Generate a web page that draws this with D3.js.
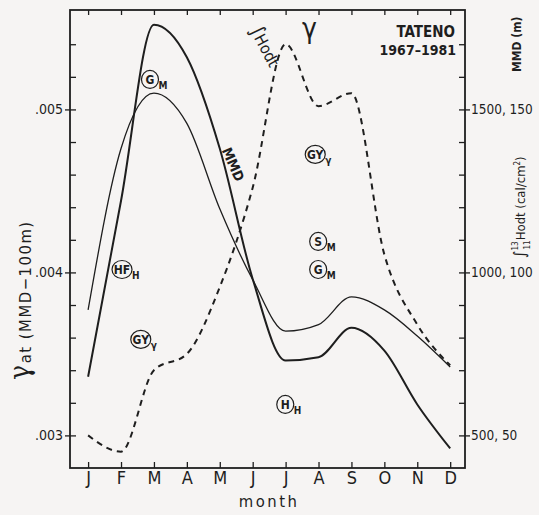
<!DOCTYPE html>
<html>
<head>
<meta charset="utf-8">
<script src="https://cdn.jsdelivr.net/npm/d3@7/dist/d3.min.js"></script>
<style>
  html, body { margin: 0; padding: 0; background: #f6f4f3; }
  svg { display: block; }
  text { fill: #1e1e1e; font-family: "DejaVu Sans Condensed", "DejaVu Sans", sans-serif; font-stretch: condensed; }
</style>
</head>
<body>
<script>
// Monthly climatology, Tateno 1967-1981
const months = ["J", "F", "M", "A", "M", "J", "J", "A", "S", "O", "N", "D"];
// lapse-type coefficient gamma at (MMD - 100 m)
const gammaAt = [0.00300, 0.00290, 0.00340, 0.00350, 0.00391, 0.00452, 0.00540, 0.00502, 0.00510, 0.00411, 0.00368, 0.00343];
// mean mixing depth, m
const mmd = [885, 1380, 1550, 1457, 1195, 978, 820, 840, 925, 885, 805, 710];
// integrated surface heat flux 11-13 h, cal/cm^2
const hodt = [68, 122, 176, 166, 138, 98, 73, 74, 83, 76, 59.5, 46];

const leftMajor = [0.003, 0.004, 0.005];
const rightMajor = [500, 1000, 1500];
const rightMajorLabels = ["500, 50", "1000, 100", "1500, 150"];

// circled source markers: [letter(s), subscript, month index, gamma]
const markers = [
  ["G", "M", 1.88, 0.005184],
  ["GY", "γ", 6.9, 0.004724],
  ["HF", "H", 1.03, 0.004018],
  ["GY", "γ", 1.6, 0.003589],
  ["S", "M", 6.99, 0.00419],
  ["G", "M", 6.99, 0.004018],
  ["H", "H", 5.99, 0.00319]
];

const W = 539, H = 515;
const svg = d3.select("body").append("svg").attr("width", W).attr("height", H);

const frame = { left: 70, right: 465, top: 10, bottom: 468 };
const x = d3.scaleLinear().domain([-0.55, 11.45]).range([frame.left, frame.right]);
const y = d3.scaleLinear().domain([0.0028, 0.00561]).range([frame.bottom, frame.top]);
// right-hand scales share the frame: MMD 500 m <-> 0.003, 1500 m <-> 0.005
const yM = d3.scaleLinear().domain([400, 1805]).range([frame.bottom, frame.top]);
const yH = d3.scaleLinear().domain([40, 180.5]).range([frame.bottom, frame.top]);

const ink = "#1e1e1e";

// frame
svg.append("rect")
  .attr("x", frame.left).attr("y", frame.top)
  .attr("width", frame.right - frame.left).attr("height", frame.bottom - frame.top)
  .attr("fill", "none").attr("stroke", ink).attr("stroke-width", 1.8);

function styleAxis(g) {
  g.select(".domain").remove();
  g.selectAll(".tick line").attr("stroke", ink).attr("stroke-width", 1.3);
  g.selectAll(".tick text").attr("fill", ink);
}

// left axis: inner ticks every 0.0002, labelled ticks crossing the frame
const leftMinor = d3.range(15, 28).map(i => i * 0.0002).filter(v => v >= 0.00299);
svg.append("g").attr("transform", `translate(${frame.left},0)`)
  .call(d3.axisRight(y).tickValues(leftMinor).tickSize(6).tickFormat(""))
  .call(styleAxis);
svg.append("g").attr("transform", `translate(${frame.left},0)`)
  .call(d3.axisLeft(y).tickValues(leftMajor).tickSize(5).tickPadding(2)
    .tickFormat(d => d3.format(".3f")(d).replace(/^0/, "")))
  .call(styleAxis)
  .call(g => g.selectAll(".tick text").attr("font-size", 14));

// right axis
const rightMinor = d3.range(5, 18).map(i => i * 100);
svg.append("g").attr("transform", `translate(${frame.right},0)`)
  .call(d3.axisLeft(yM).tickValues(rightMinor).tickSize(6).tickFormat(""))
  .call(styleAxis);
svg.append("g").attr("transform", `translate(${frame.right},0)`)
  .call(d3.axisRight(yM).tickValues(rightMajor).tickSize(5).tickPadding(1)
    .tickFormat((d, i) => rightMajorLabels[i]))
  .call(styleAxis)
  .call(g => g.selectAll(".tick text").attr("font-size", 13.5));

// month ticks on bottom and top edges, pointing inward
const monthIdx = d3.range(months.length);
svg.append("g").attr("transform", `translate(0,${frame.bottom})`)
  .call(d3.axisTop(x).tickValues(monthIdx).tickSize(6).tickFormat(""))
  .call(styleAxis);
svg.append("g").attr("transform", `translate(0,${frame.top})`)
  .call(d3.axisBottom(x).tickValues(monthIdx).tickSize(5).tickFormat(""))
  .call(styleAxis);
svg.append("g").attr("transform", `translate(0,${frame.bottom})`)
  .call(d3.axisBottom(x).tickValues(monthIdx).tickSize(0).tickPadding(3)
    .tickFormat(i => months[i]))
  .call(styleAxis)
  .call(g => g.selectAll(".tick text").attr("font-size", 18).attr("dy", "0.71em"));

svg.append("text")
  .attr("x", x(5.5)).attr("y", 507)
  .attr("text-anchor", "middle").attr("font-size", 16.5).attr("letter-spacing", 2.5)
  .text("month");

// axis titles
const lt = svg.append("text")
  .attr("transform", `translate(29,${y(0.00383)}) rotate(-90)`)
  .attr("text-anchor", "middle").attr("letter-spacing", 1.5);
lt.append("tspan").attr("font-size", 28).attr("font-family", "DejaVu Serif, serif").text("γ");
lt.append("tspan").attr("font-size", 16.5).attr("dy", 2).text("at (MMD−100m)");

svg.append("text")
  .attr("transform", `translate(521,${yM(1700)}) rotate(-90)`)
  .attr("text-anchor", "middle").attr("font-size", 12).attr("font-weight", "bold")
  .text("MMD (m)");

const rt = svg.append("text")
  .attr("transform", `translate(525,${yM(1200)}) rotate(-90)`)
  .attr("text-anchor", "middle").attr("font-size", 13);
rt.append("tspan").attr("font-size", 16).text("∫");
rt.append("tspan").attr("font-size", 8).attr("dy", -7).text("13");
rt.append("tspan").attr("font-size", 8).attr("dx", -8).attr("dy", 12).text("11");
rt.append("tspan").attr("dy", -5).text("Hodt (cal/cm");
rt.append("tspan").attr("font-size", 8).attr("dy", -5).text("2");
rt.append("tspan").attr("dy", 5).text(")");

// curves
const line = (scale) => d3.line()
  .x((d, i) => x(i))
  .y(d => scale(d))
  .curve(d3.curveMonotoneX);

svg.append("path").datum(hodt).attr("d", line(yH))
  .attr("fill", "none").attr("stroke", ink).attr("stroke-width", 2);
svg.append("path").datum(mmd).attr("d", line(yM))
  .attr("fill", "none").attr("stroke", ink).attr("stroke-width", 1.3);
svg.append("path").datum(gammaAt).attr("d", line(y))
  .attr("fill", "none").attr("stroke", ink).attr("stroke-width", 2)
  .attr("stroke-dasharray", "6,5");

// curve labels
svg.append("text")
  .attr("transform", `translate(${x(6.5)},${y(0.00544)})`)
  .attr("font-size", 28).attr("font-family", "DejaVu Serif, serif").text("γ");

const hl = svg.append("text")
  .attr("transform", `translate(${x(4.9)},${y(0.00549)}) rotate(62)`)
  .attr("font-size", 16);
hl.append("tspan").attr("font-size", 20).text("∫");
hl.append("tspan").text("Hodt");

svg.append("text")
  .attr("transform", `translate(${x(4.05)},${y(0.00475)}) rotate(66)`)
  .attr("font-size", 14).attr("font-weight", "bold").text("MMD");

svg.append("text")
  .attr("x", 455).attr("y", 37).attr("text-anchor", "end")
  .attr("font-size", 15).attr("font-weight", "bold").text("TATENO");
svg.append("text")
  .attr("x", 456).attr("y", 55).attr("text-anchor", "end")
  .attr("font-size", 14).attr("font-weight", "bold").text("1967–1981");

// circled markers
const mk = svg.append("g").selectAll("g").data(markers).join("g")
  .attr("transform", d => `translate(${x(d[2])},${y(d[3])})`);
mk.append("ellipse")
  .attr("rx", d => d[0].length > 1 ? 10 : 8.5).attr("ry", 9)
  .attr("fill", "none").attr("stroke", ink).attr("stroke-width", 1.2);
mk.append("text")
  .attr("text-anchor", "middle").attr("dy", "0.36em")
  .attr("font-size", 12).attr("font-weight", "bold").text(d => d[0]);
mk.append("text")
  .attr("x", d => d[0].length > 1 ? 10 : 8.5).attr("y", 10)
  .attr("font-size", 10).attr("font-weight", "bold").text(d => d[1]);
</script>
</body>
</html>
